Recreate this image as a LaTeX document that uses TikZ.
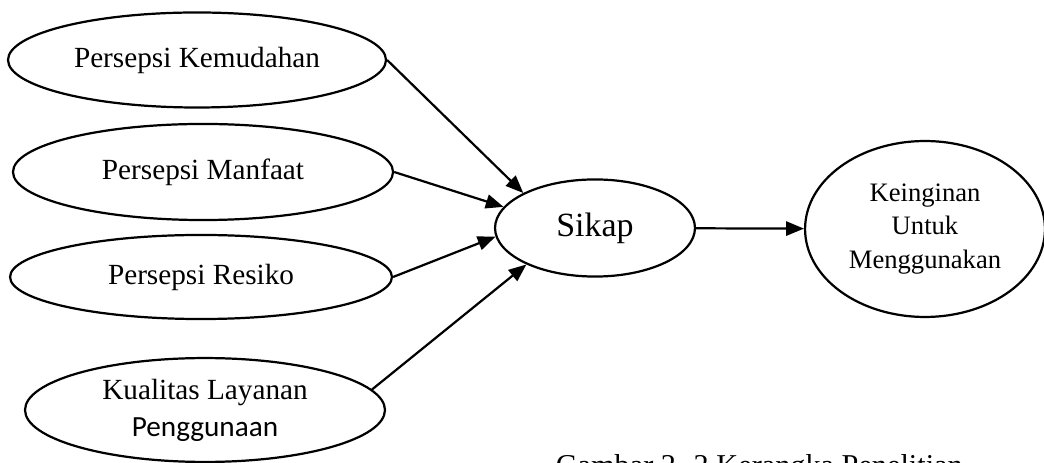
\documentclass[tikz,border=0pt]{standalone}
\usepackage{fontspec}
\setmainfont{Liberation Serif}
\newfontfamily\timesfont{Liberation Serif}
\newfontfamily\carlito{Carlito}
\usetikzlibrary{shapes.geometric,arrows.meta}

\begin{document}
\begin{tikzpicture}[x=0.3831pt,y={(0pt,-0.3831pt)},
  oval/.style={ellipse,draw,line width=0.85pt,inner sep=0pt,align=center,font=\timesfont\fontsize{11.2}{14.2}\selectfont},
  link/.style={-{Triangle[length=6.8pt,width=5.4pt]},line width=0.85pt}]
 \useasboundingbox (0,0) rectangle (1044,463);

 % left column
 \node [oval,minimum width=144.8pt,minimum height=36.4pt] (kemudahan) at (197,60) {Persepsi Kemudahan};
 \node [oval,minimum width=145.6pt,minimum height=36.8pt] (manfaat) at (203,172) {Persepsi Manfaat};
 \node [oval,minimum width=146.3pt,minimum height=32.2pt] (resiko) at (201,277) {Persepsi Resiko};
 \node [oval,minimum width=137.9pt,minimum height=39.8pt] (kualitas) at (205,410) {Kualitas Layanan\\{\carlito Penggunaan}};

 \node [oval,minimum width=76.6pt,minimum height=37.2pt,font=\timesfont\fontsize{13}{16}\selectfont] (sikap) at (595,228) {Sikap};
 \node [oval,minimum width=91.9pt,minimum height=67.4pt,font=\timesfont\fontsize{10.2}{12.7}\selectfont] (keinginan) at (925,229) {Keinginan\\Untuk\\Menggunakan};

 \foreach \src/\from/\to in {kemudahan/0/154,manfaat/0/167,resiko/0/185,kualitas/7/208}
   \draw [link] (\src.\from) -- (sikap.\to);
 \draw [link] (sikap) -- (keinginan);

 \node [anchor=base east,font=\timesfont\fontsize{11.6}{14}\selectfont] (caption) at (972,475) {Gambar 2. 2 Kerangka Penelitian};
\end{tikzpicture}
\end{document}
